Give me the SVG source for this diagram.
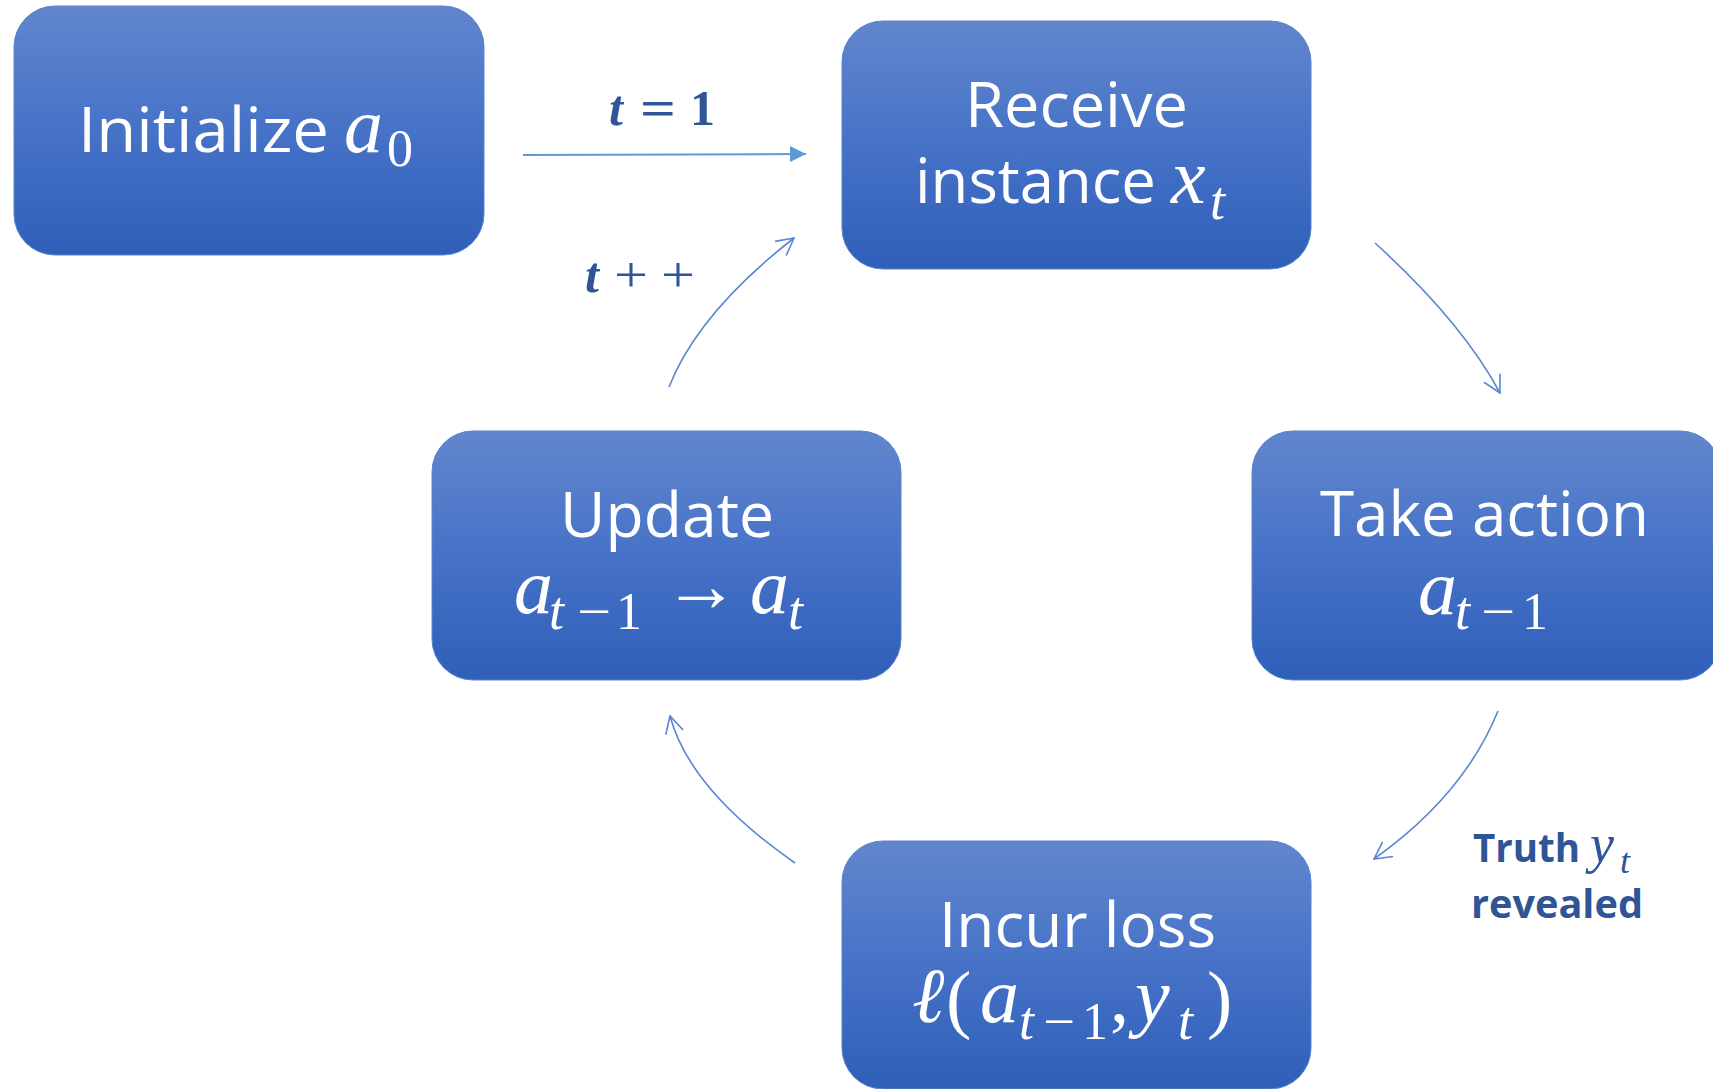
<svg xmlns="http://www.w3.org/2000/svg" width="1713" height="1089" viewBox="0 0 1713 1089">
  <defs>
    <linearGradient id="boxGrad" x1="0" y1="0" x2="0" y2="1">
      <stop offset="0" stop-color="#6186cd"/>
      <stop offset="0.5" stop-color="#4672c7"/>
      <stop offset="1" stop-color="#2f5fb9"/>
    </linearGradient>
    <marker id="tri" viewBox="0 0 16 16" refX="16" refY="8" markerWidth="16" markerHeight="16" markerUnits="userSpaceOnUse" orient="auto">
      <path d="M0,0 L16,8 L0,16 Z" fill="#5b9bd5"/>
    </marker>
    <marker id="open" viewBox="0 0 20 20" refX="19" refY="10" markerWidth="20" markerHeight="20" markerUnits="userSpaceOnUse" orient="auto">
      <path d="M2,1 L19,10 L2,19" fill="none" stroke="#5a86d4" stroke-width="1.6"/>
    </marker>
  </defs>
  <style>
    .box { fill: url(#boxGrad); stroke: #5b84cc; stroke-width: 1; }
    .lbl { font-family: "Open Sans", "Liberation Sans", sans-serif; font-size: 63px; fill: #ffffff; }
    .math { font-family: "Liberation Serif", "DejaVu Serif", serif; fill: #ffffff; }
    .m { font-style: italic; font-size: 78px; }
    .mu { font-style: normal; font-size: 76px; }
    .s { font-style: italic; font-size: 54px; }
    .su { font-style: normal; font-size: 52px; }
    .note { font-family: "Open Sans", "Liberation Sans", sans-serif; font-weight: bold; font-size: 40px; fill: #2f5597; }
    .nmath { font-family: "Liberation Serif", "DejaVu Serif", serif; fill: #2f5597; }
    .curve { fill: none; stroke: #5a86d4; stroke-width: 1.6; marker-end: url(#open); }
  </style>
  <rect width="1713" height="1089" fill="#ffffff"/>

  <g id="connectors">
    <line x1="523" y1="155" x2="806" y2="154" stroke="#5b9bd5" stroke-width="2" marker-end="url(#tri)"/>
    <path class="curve" d="M1375,243 Q1462,322 1500,393"/>
    <path class="curve" d="M1498,711 Q1464,795 1374,859"/>
    <path class="curve" d="M795,863 Q690,790 670,716"/>
    <path class="curve" d="M669,387 Q698,313 794,238"/>
    <text id="label-t1" class="nmath" font-size="50" font-weight="bold"><tspan x="609" y="125" font-style="italic">t</tspan><tspan x="640" y="125" textLength="36" lengthAdjust="spacingAndGlyphs">=</tspan><tspan x="690" y="125">1</tspan></text>
    <text id="label-tpp" class="nmath" font-size="50"><tspan x="585" y="292" font-style="italic" font-weight="bold">t</tspan><tspan x="614" y="292" textLength="34" lengthAdjust="spacingAndGlyphs">+</tspan><tspan x="661" y="292" textLength="34" lengthAdjust="spacingAndGlyphs">+</tspan></text>
    <g id="label-truth">
      <text class="note" x="1473" y="862" textLength="107" lengthAdjust="spacingAndGlyphs">Truth</text>
      <text class="nmath" font-style="italic"><tspan x="1590" y="862" font-size="54">y</tspan><tspan x="1620" y="873" font-size="36">t</tspan></text>
      <text class="note" x="1471" y="918" textLength="172" lengthAdjust="spacingAndGlyphs">revealed</text>
    </g>
  </g>

  <g id="node-initialize">
    <rect class="box" x="14" y="6" width="470" height="249" rx="41" ry="41"/>
    <text class="lbl" x="78" y="152" textLength="251" lengthAdjust="spacingAndGlyphs">Initialize</text>
    <text class="math"><tspan class="m" x="344" y="152">a</tspan><tspan class="su" x="387" y="166">0</tspan></text>
  </g>

  <g id="node-receive">
    <rect class="box" x="842" y="21" width="469" height="248" rx="41" ry="41"/>
    <text class="lbl" x="965" y="127" textLength="223" lengthAdjust="spacingAndGlyphs">Receive</text>
    <text class="lbl" x="915" y="203" textLength="241" lengthAdjust="spacingAndGlyphs">instance</text>
    <text class="math"><tspan class="m" x="1171" y="203">x</tspan><tspan class="s" x="1210" y="219">t</tspan></text>
  </g>

  <g id="node-take-action">
    <rect class="box" x="1252" y="431" width="469" height="249" rx="41" ry="41"/>
    <text class="lbl" x="1320" y="536" textLength="329" lengthAdjust="spacingAndGlyphs">Take action</text>
    <text class="math"><tspan class="m" x="1418" y="614">a</tspan><tspan class="s" x="1455" y="629">t</tspan><tspan class="su" x="1481" y="629" textLength="34" lengthAdjust="spacingAndGlyphs">−</tspan><tspan class="su" x="1522" y="629">1</tspan></text>
  </g>

  <g id="node-update">
    <rect class="box" x="432" y="431" width="469" height="249" rx="41" ry="41"/>
    <text class="lbl" x="560" y="537" textLength="214" lengthAdjust="spacingAndGlyphs">Update</text>
    <text class="math"><tspan class="m" x="514" y="613">a</tspan><tspan class="s" x="549" y="629">t</tspan><tspan class="su" x="577" y="629" textLength="34" lengthAdjust="spacingAndGlyphs">−</tspan><tspan class="su" x="616" y="629">1</tspan><tspan class="mu" x="663" y="611" font-size="86">→</tspan><tspan class="m" x="750" y="613">a</tspan><tspan class="s" x="788" y="629">t</tspan></text>
  </g>

  <g id="node-incur-loss">
    <rect class="box" x="842" y="841" width="469" height="248" rx="41" ry="41"/>
    <text class="lbl" x="939" y="947" textLength="277" lengthAdjust="spacingAndGlyphs">Incur loss</text>
    <text class="math"><tspan class="m" x="912" y="1022">ℓ</tspan><tspan class="mu" x="946" y="1024">(</tspan><tspan class="m" x="980" y="1022">a</tspan><tspan class="s" x="1019" y="1039">t</tspan><tspan class="su" x="1043" y="1039" textLength="32" lengthAdjust="spacingAndGlyphs">−</tspan><tspan class="su" x="1082" y="1039">1</tspan><tspan class="mu" x="1110" y="1022">,</tspan><tspan class="m" x="1135" y="1022">y</tspan><tspan class="s" x="1178" y="1039">t</tspan><tspan class="mu" x="1207" y="1024">)</tspan></text>
  </g>
</svg>
